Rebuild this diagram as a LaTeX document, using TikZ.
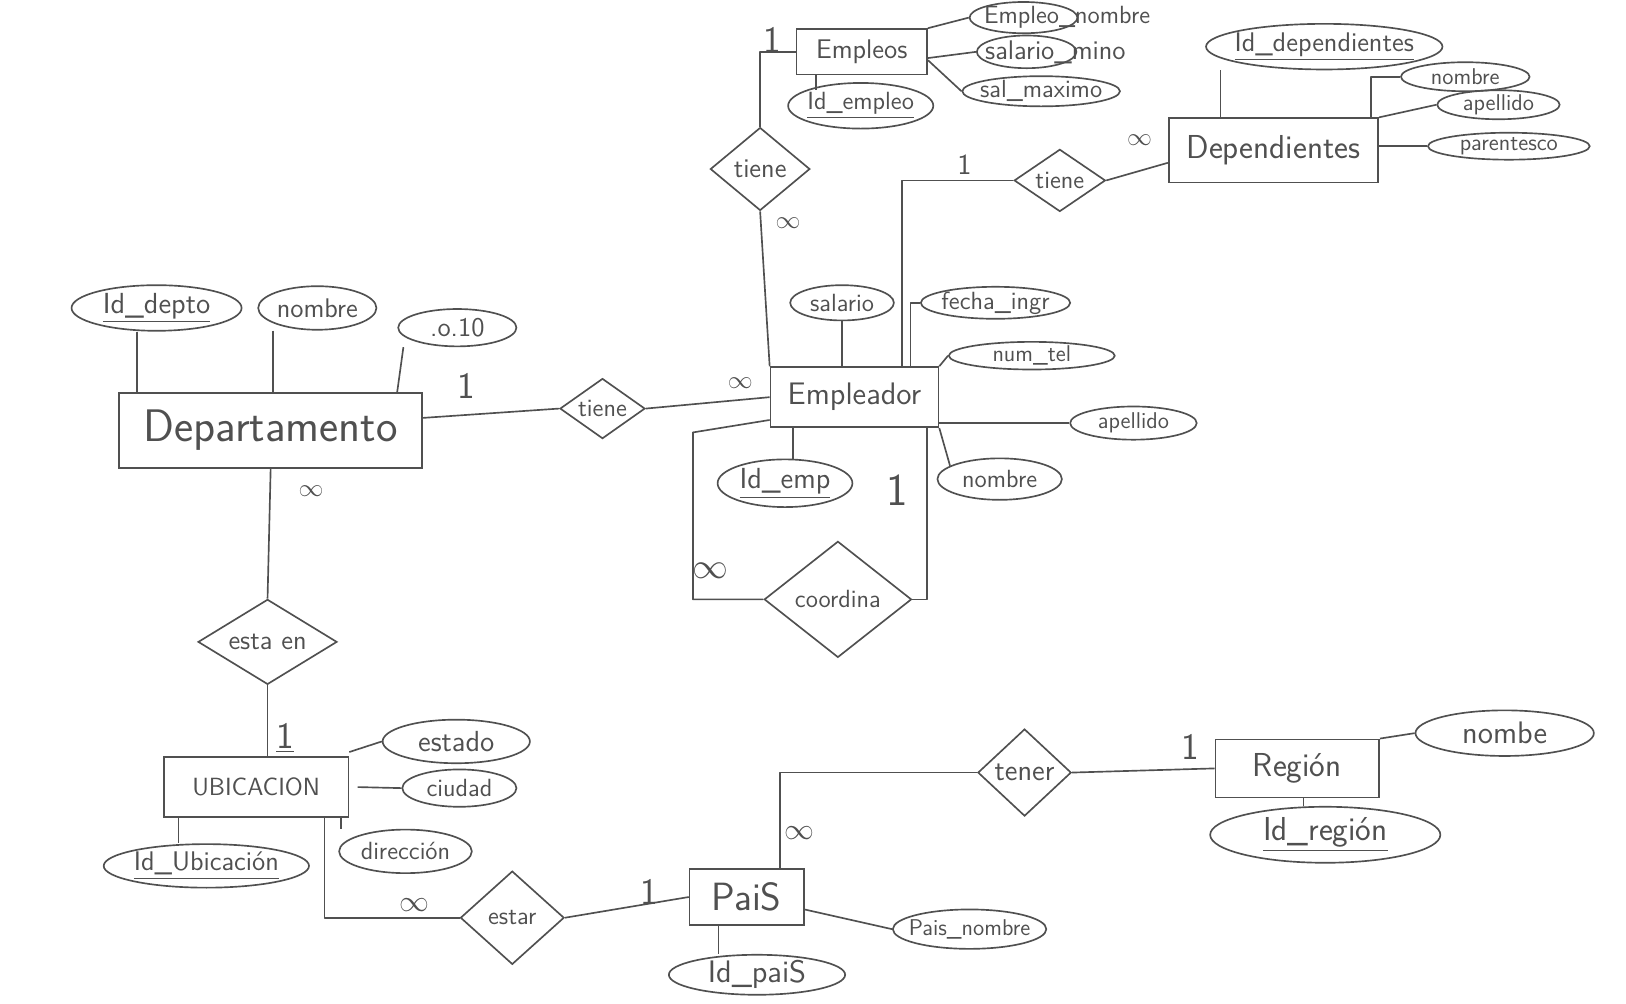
\documentclass[tikz,border=0pt]{standalone}
\usepackage{fontspec}
\usetikzlibrary{shapes.geometric,calc}
\definecolor{pencil}{HTML}{505050}
\newcommand{\zt}[1]{\makebox[0pt]{#1}}
\newcommand{\lt}[2]{\makebox[0pt][l]{\hspace{#1}#2}}
\begin{document}
\begin{tikzpicture}[x=0.5pt,y=-0.5pt,
 fnt/.style={font=\sffamily\fontsize{#1}{#1}\selectfont},
 every node/.style={text=pencil},
 pen/.style={draw=pencil, line width=0.8pt},
 ent/.style={pen, rectangle, inner sep=0pt},
 attr/.style={pen, ellipse, inner sep=0pt},
 rel/.style={pen, diamond, inner sep=0pt},
 card/.style={inner sep=0pt, fnt=18},
 inf/.style={inner sep=0pt, fnt=13},
 conn/.style={pen, line join=round},
]
\useasboundingbox (0,0) rectangle (1568,968);

% ---------------- Departamento ----------------
\node[ent, minimum width=146pt, minimum height=36pt, fnt=22] (dep) at (261,415) {\zt{Departamento}};
\node[attr, minimum width=82pt, minimum height=22pt, fnt=14] (iddep) at (151,297) {\zt{\underline{Id\_depto}}};
\node[attr, minimum width=57pt, minimum height=21pt, fnt=13] (nomdep) at (306,297) {\zt{nombre}};
\node[attr, minimum width=57pt, minimum height=18pt, fnt=13] (otro) at (441,316) {\zt{.o.10}};
\node[rel, minimum width=41pt, minimum height=29pt, fnt=12] (tiene1) at (581,394) {\zt{tiene}};

% ---------------- Empleador ----------------
\node[ent, minimum width=81pt, minimum height=29pt, fnt=15] (emp) at (824,383) {\zt{Empleador}};
\node[attr, minimum width=50pt, minimum height=17pt, fnt=12] (salemp) at (812,292) {\zt{salario}};
\node[attr, minimum width=72pt, minimum height=15pt, fnt=12] (fecha) at (960,292) {\zt{fecha\_ingr}};
\node[attr, minimum width=80pt, minimum height=12pt, fnt=11] (numtel) at (995,343) {\zt{num\_tel}};
\node[attr, minimum width=61pt, minimum height=16pt, fnt=11] (apemp) at (1093,408) {\zt{apellido}};
\node[attr, minimum width=60pt, minimum height=20pt, fnt=12] (nomemp) at (964,462) {\zt{nombre}};
\node[attr, minimum width=65pt, minimum height=23pt, fnt=14] (idemp) at (757,466) {\zt{\underline{Id\_emp}}};
\node[rel, minimum width=71pt, minimum height=56pt, fnt=12] (coord) at (808,578) {\zt{coordina}};

% ---------------- Empleos ----------------
\node[rel, minimum width=48pt, minimum height=40pt, fnt=13] (tiene2) at (733,163) {\zt{tiene}};
\node[ent, minimum width=63pt, minimum height=22pt, fnt=13] (empleos) at (831,50) {\zt{Empleos}};
\node[attr, minimum width=52pt, minimum height=12pt, fnt=12] (empnom) at (987,17) {\lt{-19pt}{Empleo\_nombre}};
\node[attr, minimum width=48pt, minimum height=11pt, fnt=13] (salmin) at (990,50) {\lt{-20pt}{salario\_mino}};
\node[attr, minimum width=76pt, minimum height=13pt, fnt=12] (salmax) at (1004,88) {\zt{sal\_maximo}};
\node[attr, minimum width=70pt, minimum height=22pt, fnt=12] (idempleo) at (830,102) {\zt{\underline{Id\_empleo}}};

% ---------------- Dependientes ----------------
\node[rel, minimum width=44pt, minimum height=30pt, fnt=12] (tiene3) at (1022,174) {\zt{tiene}};
\node[ent, minimum width=101pt, minimum height=31pt, fnt=16] (depend) at (1228,145) {\zt{Dependientes}};
\node[attr, minimum width=114pt, minimum height=22pt, fnt=13] (iddepend) at (1277,45) {\zt{\underline{Id\_dependientes}}};
\node[attr, minimum width=62pt, minimum height=14pt, fnt=11] (nomdepend) at (1413,74) {\zt{nombre}};
\node[attr, minimum width=59pt, minimum height=14pt, fnt=11] (apdepend) at (1445,101) {\zt{apellido}};
\node[attr, minimum width=78pt, minimum height=13pt, fnt=11] (parent) at (1455,141) {\zt{parentesco}};

% ---------------- Ubicacion ----------------
\node[rel, minimum width=67pt, minimum height=41pt, fnt=13] (estaen) at (258,619) {\zt{esta en}};
\node[ent, minimum width=89pt, minimum height=29pt, fnt=12] (ubic) at (247,759) {\zt{UBICACION}};
\node[attr, minimum width=71pt, minimum height=21pt, fnt=14] (estado) at (440,715) {\zt{estado}};
\node[attr, minimum width=55pt, minimum height=18pt, fnt=12] (ciudad) at (443,760) {\zt{ciudad}};
\node[attr, minimum width=64pt, minimum height=21pt, fnt=12] (direc) at (391,821) {\zt{dirección}};
\node[attr, minimum width=99pt, minimum height=21pt, fnt=13] (idubic) at (199,835) {\zt{\underline{Id\_Ubicación}}};

% ---------------- Pais / Region ----------------
\node[rel, minimum width=50pt, minimum height=45pt, fnt=12] (estar) at (494,885) {\zt{estar}};
\node[ent, minimum width=55pt, minimum height=27pt, fnt=19] (pais) at (720,865) {\zt{PaiS}};
\node[attr, minimum width=74pt, minimum height=19pt, fnt=11] (paisnom) at (935,896) {\zt{Pais\_nombre}};
\node[attr, minimum width=85pt, minimum height=19pt, fnt=15] (idpais) at (730,940) {\zt{Id\_paiS}};
\node[rel, minimum width=45pt, minimum height=42pt, fnt=14] (tener) at (988,745) {\zt{tener}};
\node[ent, minimum width=79pt, minimum height=28pt, fnt=16] (region) at (1251,741) {\zt{Región}};
\node[attr, minimum width=86pt, minimum height=22pt, fnt=15] (regnom) at (1451,707) {\zt{nombe}};
\node[attr, minimum width=111pt, minimum height=27pt, fnt=16] (idreg) at (1278,805) {\zt{\underline{Id\_región}}};

% ---------------- cardinalities ----------------
\node[card] (c1) at (450,372) {1};
\node[inf] (c2) at (714,369) {$\infty$};
\node[inf] (c3) at (300,474) {$\infty$};
\node[card] (c4) at (275,712) {\underline{1}};
\node[card, fnt=22] (c5) at (865,473) {1};
\node[inf, fnt=16] (c6) at (685,550) {$\infty$};
\node[inf] (c7) at (760,215) {$\infty$};
\node[card] (c8) at (745,39) {1};
\node[card, fnt=14] (c9) at (930,159) {1};
\node[inf] (c10) at (1099,135) {$\infty$};
\node[inf, fnt=15] (c11) at (400,873) {$\infty$};
\node[card] (c12) at (626,860) {1};
\node[inf, fnt=15] (c13) at (771,803) {$\infty$};
\node[card] (c14) at (1148,720) {1};

% ---------------- connectors ----------------
% Departamento
\draw[conn] ([xshift=-9.5pt]iddep.south) -- ([xshift=-9.5pt]iddep.south |- dep.north);
\draw[conn] ([xshift=-21.5pt]nomdep.south) -- ([xshift=-21.5pt]nomdep.south |- dep.north);
\draw[conn] ([xshift=-26pt]otro.south) -- ([xshift=-29pt]otro.south |- dep.north);
\draw[conn] ([yshift=6pt]dep.east) -- (tiene1.west);
\draw[conn] (tiene1.east) -- (emp.west);
\draw[conn] (dep.south) -- (estaen.north);
% Empleador
\draw[conn] (salemp.south) -- (salemp.south |- emp.north);
\draw[conn] (fecha.west) -| ([xshift=27pt]emp.north);
\draw[conn] (emp.north east) -- (numtel.west);
\draw[conn] (apemp.west -| emp.east) -- (apemp.west);
\draw[conn] (emp.south east) -- (nomemp.165);
\draw[conn] ([xshift=4pt]idemp.north) -- ([xshift=4pt]idemp.north |- emp.south);
\draw[conn] ([yshift=-11pt]emp.west) -- ++(-37pt,-6pt) |- (coord.west);
\draw[conn] (coord.east) -| ([xshift=35pt]emp.south);
% Empleos
\draw[conn] (tiene2.south) -- (emp.north west);
\draw[conn] (tiene2.north) |- (empleos.west);
\draw[conn] (empleos.north east) -- (empnom.west);
\draw[conn] ([yshift=-3pt]empleos.east) -- (salmin.west);
\draw[conn] ([yshift=-4pt]empleos.east) -- (salmax.west);
\draw[conn] ([xshift=-22pt]empleos.south) -- ++(0,-7pt);
% Dependientes
\draw[conn] ([xshift=23pt]emp.north) |- (tiene3.west);
\draw[conn] (tiene3.east) -- ([yshift=-6pt]depend.west);
\draw[conn] ([xshift=-25.5pt]depend.north) -- ([xshift=-25.5pt]depend.north |- iddepend.south);
\draw[conn] ([xshift=-4pt]depend.north east) |- (nomdepend.west);
\draw[conn] (depend.north east) -- (apdepend.west);
\draw[conn] (parent.west -| depend.east) -- (parent.west);
% Ubicacion
\draw[conn] (estaen.south) -- (estaen.south |- ubic.north);
\draw[conn] ([yshift=2pt]ubic.north east) -- (estado.west);
\draw[conn] ([xshift=4pt]ubic.east) -- (ciudad.west);
\draw[conn] ([xshift=-4pt]ubic.south east) -- ([xshift=-4pt]ubic.south east |- direc.north);
\draw[conn] ([xshift=-37.5pt]ubic.south) -- ([xshift=-37.5pt]ubic.south |- idubic.north);
\draw[conn] ([xshift=33pt]ubic.south) |- (estar.west);
% Pais / Region
\draw[conn] (estar.east) -- (pais.west);
\draw[conn] ([yshift=-6pt]pais.east) -- (paisnom.west);
\draw[conn] ([xshift=-13.5pt]pais.south) -- ([xshift=-13.5pt]pais.south |- idpais.north);
\draw[conn] ([xshift=16pt]pais.north) |- (tener.west);
\draw[conn] (tener.east) -- (region.west);
\draw[conn] (region.north east) -- (regnom.west);
\draw[conn] ([xshift=3pt]region.south) -- ([xshift=3pt]region.south |- idreg.north);
\end{tikzpicture}
\end{document}
